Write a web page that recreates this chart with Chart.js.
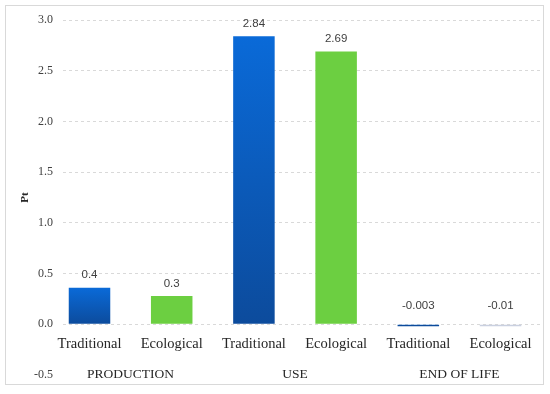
<!DOCTYPE html>
<html>
<head>
<meta charset="utf-8">
<script src="https://cdn.jsdelivr.net/npm/chart.js@4/dist/chart.umd.min.js"></script>
<style>
  html, body { margin: 0; padding: 0; background: #fff; }
  #wrap { width: 550px; height: 394px; }
</style>
</head>
<body>
<div id="wrap"><canvas id="chart" width="550" height="394"></canvas></div>
<script>
// life-cycle phases and the two scenarios shown under each
const phases = ["PRODUCTION", "USE", "END OF LIFE"];
const scenarios = ["Traditional", "Ecological", "Traditional", "Ecological", "Traditional", "Ecological"];
const scores = [0.36, 0.28, 2.84, 2.69, -0.003, -0.01];
const scoreLabels = ["0.4", "0.3", "2.84", "2.69", "-0.003", "-0.01"];
const barKinds = ["blue", "green", "blue", "green", "blue", "pale"];
const yTicks = [-0.5, 0, 0.5, 1.0, 1.5, 2.0, 2.5, 3.0];

const SERIF = "'Liberation Serif', 'DejaVu Serif', serif";
const SANS = "'Liberation Sans', Arial, sans-serif";
const GRID = "#d9d9d9";

function barFill(ctx) {
  const kind = barKinds[ctx.dataIndex];
  if (kind === "green") return "#6ccf41";
  if (kind === "pale") return "#c9d0e0";
  const y = ctx.chart.scales.y;
  if (!y || !ctx.parsed || !ctx.chart.chartArea) return "#0a62c6";
  const top = y.getPixelForValue(Math.max(ctx.parsed.y, 0));
  const bottom = y.getPixelForValue(Math.min(ctx.parsed.y, 0));
  if (!isFinite(top) || !isFinite(bottom)) return "#0a62c6";
  const g = ctx.chart.ctx.createLinearGradient(0, top, 0, Math.max(bottom, top + 1));
  g.addColorStop(0, "#0a6ad8");
  g.addColorStop(1, "#0c4b9c");
  return g;
}

const frame = {
  id: "frame",
  beforeDraw(chart) {
    const c = chart.ctx;
    c.save();
    c.strokeStyle = "#d9d9d9";
    c.lineWidth = 1;
    c.strokeRect(5.5, 5.5, 538, 379);
    c.restore();
  }
};

const valueLabels = {
  id: "valueLabels",
  afterDatasetsDraw(chart) {
    const c = chart.ctx;
    const meta = chart.getDatasetMeta(0);
    c.save();
    c.font = "11.5px " + SANS;
    c.fillStyle = "#404040";
    c.textAlign = "center";
    c.textBaseline = "middle";
    meta.data.forEach((bar, i) => {
      const v = scores[i];
      const yy = v < 0 ? bar.base - 19 : bar.y - 12.5;
      c.fillText(scoreLabels[i], bar.x, yy);
    });
    c.restore();
  }
};

new Chart(document.getElementById("chart"), {
  type: "bar",
  data: {
    datasets: [{
      data: scores.map((v, i) => ({ x: i, y: v })),
      backgroundColor: barFill,
      borderWidth: 0,
      minBarLength: 2,
      categoryPercentage: 1,
      barPercentage: 0.505,
    }],
  },
  options: {
    responsive: false,
    animation: false,
    layout: { padding: { left: 0, top: 20, right: 10, bottom: 19 } },
    plugins: { legend: { display: false }, tooltip: { enabled: false } },
    scales: {
      x: {
        type: "linear",
        offset: false,
        position: { y: 0 },
        min: -0.3224,
        max: 5.48,
        grid: { display: false, drawTicks: false, offset: false },
        border: { display: false },
        afterBuildTicks: (axis) => { axis.ticks = scenarios.map((s, i) => ({ value: i })); },
        ticks: {
          autoSkip: false, maxRotation: 0, padding: 11,
          color: "#262626",
          font: { family: SERIF, size: 14.5 },
          callback: (v) => scenarios[v],
        },
      },
      x2: {
        type: "linear",
        offset: false,
        position: { y: 0 },
        min: -0.3224,
        max: 5.48,
        grid: { display: false, drawTicks: false, offset: false },
        border: { display: false },
        afterBuildTicks: (axis) => { axis.ticks = phases.map((p, i) => ({ value: 2 * i + 0.5 })); },
        ticks: {
          autoSkip: false, maxRotation: 0, padding: 42,
          color: "#262626",
          font: { family: SERIF, size: 13.5 },
          callback: (v) => phases[(v - 0.5) / 2],
        },
      },
      y: {
        min: -0.5,
        max: 3.0,
        afterBuildTicks: (axis) => { axis.ticks = yTicks.map(v => ({ value: v })); },
        afterFit: (axis) => { axis.width = 63; },
        grid: {
          drawTicks: false,
          color: (ctx) => (ctx.tick && ctx.tick.value === -0.5) ? "rgba(0,0,0,0)" : GRID,
        },
        border: { display: false, dash: [3, 3] },
        ticks: {
          padding: 10,
          color: "#404040",
          font: { family: SERIF, size: 12 },
          callback: (v) => v.toFixed(1),
        },
        title: {
          display: true,
          text: "Pt",
          color: "#262626",
          font: { family: SERIF, size: 11, weight: "bold" },
          padding: { top: 19, bottom: 0 },
        },
      },
    },
  },
  plugins: [frame, valueLabels],
});
</script>
</body>
</html>
